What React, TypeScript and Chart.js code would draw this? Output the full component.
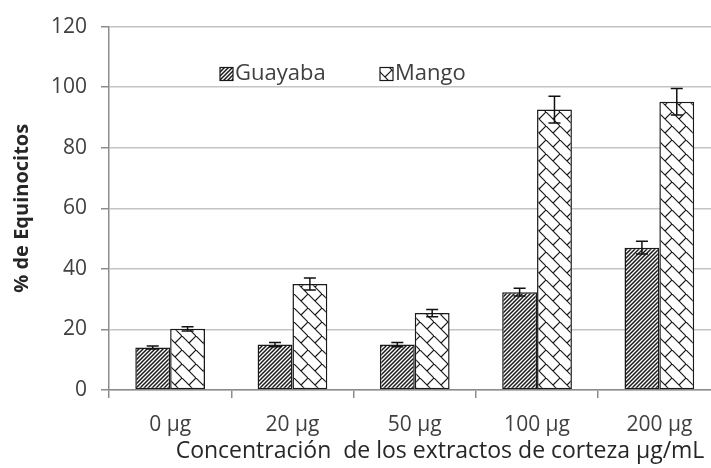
import React, { useEffect, useRef } from "react";
import { Chart, registerables } from "chart.js";

Chart.register(...registerables);

const categories = ["0 µg", "20 µg", "50 µg", "100 µg", "200 µg"];
const seriesNames = ["Guayaba", "Mango"];
const guayaba = [14.0, 15.0, 15.0, 32.3, 47.0];
const guayabaErr = [0.5, 0.7, 0.7, 1.3, 2.1];
const mango = [20.2, 35.0, 25.4, 92.6, 95.2];
const mangoErr = [0.7, 2.0, 1.2, 4.4, 4.4];
const yTicks = [0, 20, 40, 60, 80, 100, 120];
const xTitle = "Concentración  de los extractos de corteza µg/mL";
const yTitle = "% de Equinocitos";

const FONT = "'Open Sans', Lato, sans-serif";

function hatchPattern(ctx: CanvasRenderingContext2D): CanvasPattern {
  const t = document.createElement("canvas");
  const s = 4;
  t.width = s;
  t.height = s;
  const c = t.getContext("2d")!;
  c.fillStyle = "#ffffff";
  c.fillRect(0, 0, s, s);
  c.strokeStyle = "#1a1a1a";
  c.lineWidth = 1.5;
  c.beginPath();
  c.moveTo(-1, s + 1);
  c.lineTo(s + 1, -1);
  c.moveTo(-1, 1);
  c.lineTo(1, -1);
  c.moveTo(s - 1, s + 1);
  c.lineTo(s + 1, s - 1);
  c.stroke();
  return ctx.createPattern(t, "repeat")!;
}

function brickPattern(ctx: CanvasRenderingContext2D): CanvasPattern {
  const t = document.createElement("canvas");
  const s = 14;
  t.width = s;
  t.height = s;
  const c = t.getContext("2d")!;
  c.fillStyle = "#ffffff";
  c.fillRect(0, 0, s, s);
  c.strokeStyle = "#1a1a1a";
  c.lineWidth = 1.2;
  c.beginPath();
  c.moveTo(-1, -1);
  c.lineTo(s + 1, s + 1);
  c.moveTo(s, 0);
  c.lineTo(s / 2, s / 2);
  c.stroke();
  return ctx.createPattern(t, "repeat")!;
}

const errorBarPlugin = {
  id: "errorBars",
  afterDatasetsDraw(chart: any) {
    const ctx = chart.ctx;
    const y = chart.scales.y;
    chart.data.datasets.forEach((ds: any, di: number) => {
      const meta = chart.getDatasetMeta(di);
      meta.data.forEach((bar: any, i: number) => {
        const v = ds.data[i];
        const e = ds.errors[i];
        const top = y.getPixelForValue(v + e);
        const bot = y.getPixelForValue(v - e);
        const x = bar.x;
        ctx.save();
        ctx.strokeStyle = "#111";
        ctx.lineWidth = 1.5;
        ctx.beginPath();
        ctx.moveTo(x, top);
        ctx.lineTo(x, bot);
        ctx.moveTo(x - 6, top);
        ctx.lineTo(x + 6, top);
        ctx.moveTo(x - 6, bot);
        ctx.lineTo(x + 6, bot);
        ctx.stroke();
        ctx.restore();
      });
    });
  },
};

const legendPlugin = {
  id: "insideLegend",
  afterDraw(chart: any) {
    const ctx = chart.ctx;
    const positions = [220, 380];
    chart.data.datasets.forEach((ds: any, di: number) => {
      const x = positions[di];
      const y = 74;
      ctx.save();
      ctx.fillStyle = ds.backgroundColor;
      ctx.fillRect(x, y - 6.5, 13, 13);
      ctx.strokeStyle = "#1a1a1a";
      ctx.lineWidth = 1.2;
      ctx.strokeRect(x, y - 6.5, 13, 13);
      ctx.fillStyle = "#404040";
      ctx.font = `22px ${FONT}`;
      ctx.textAlign = "left";
      ctx.textBaseline = "middle";
      ctx.fillText(ds.label, x + 15, y);
      ctx.restore();
    });
  },
};

const xTitlePlugin = {
  id: "xTitle",
  afterDraw(chart: any) {
    const ctx = chart.ctx;
    ctx.save();
    ctx.fillStyle = "#262626";
    ctx.font = `23px ${FONT}`;
    ctx.textAlign = "center";
    ctx.textBaseline = "middle";
    ctx.fillText(xTitle, 440, 451);
    ctx.restore();
  },
};

export default function App() {
  const ref = useRef<HTMLCanvasElement>(null);

  useEffect(() => {
    const canvas = ref.current!;
    const ctx = canvas.getContext("2d")!;
    const pG = hatchPattern(ctx);
    const pM = brickPattern(ctx);
    const chart = new Chart(canvas, {
      type: "bar",
      data: {
        labels: categories,
        datasets: [
          {
            label: seriesNames[0],
            data: guayaba,
            errors: guayabaErr,
            backgroundColor: pG,
            borderColor: "#1a1a1a",
            borderWidth: 1.5,
            borderSkipped: false,
          } as any,
          {
            label: seriesNames[1],
            data: mango,
            errors: mangoErr,
            backgroundColor: pM,
            borderColor: "#1a1a1a",
            borderWidth: 1.5,
            borderSkipped: false,
          } as any,
        ],
      },
      options: {
        animation: false,
        responsive: false,
        devicePixelRatio: 1,
        layout: { padding: { top: 21.5, right: 9.5, left: 0, bottom: 0 } },
        datasets: { bar: { categoryPercentage: 0.57, barPercentage: 1 } },
        plugins: { legend: { display: false }, tooltip: { enabled: false } },
        scales: {
          x: {
            grid: {
              offset: true,
              drawOnChartArea: false,
              drawTicks: true,
              tickLength: 8,
              color: "#8c8c8c",
              lineWidth: 1.5,
            },
            border: { color: "#8c8c8c", width: 1.5 },
            ticks: {
              color: "#404040",
              font: { family: FONT, size: 21 },
              padding: 14,
              maxRotation: 0,
            },
            afterFit: (s: any) => {
              s.height = 78;
            },
          },
          y: {
            min: 0,
            max: 120,
            afterBuildTicks: (s: any) => {
              s.ticks = yTicks.map((v) => ({ value: v }));
            },
            grid: {
              color: "#c4c4c4",
              lineWidth: 1.5,
              tickLength: 8,
              tickColor: "#8c8c8c",
            },
            border: { color: "#8c8c8c", width: 1.5 },
            ticks: {
              color: "#404040",
              font: { family: FONT, size: 21 },
              padding: 14,
            },
            title: {
              display: true,
              text: yTitle,
              color: "#262626",
              font: { family: FONT, size: 20, weight: "bold" },
              padding: { top: 10, bottom: 0 },
            },
            afterFit: (s: any) => {
              s.width = 109;
            },
          },
        },
      },
      plugins: [errorBarPlugin, legendPlugin, xTitlePlugin],
    });
    return () => chart.destroy();
  }, []);

  return (
    <div
      style={{
        position: "fixed",
        left: 0,
        top: 0,
        width: 730,
        height: 468,
        background: "#fff",
      }}
    >
      <canvas ref={ref} width={730} height={468} style={{ display: "block" }} />
    </div>
  );
}
